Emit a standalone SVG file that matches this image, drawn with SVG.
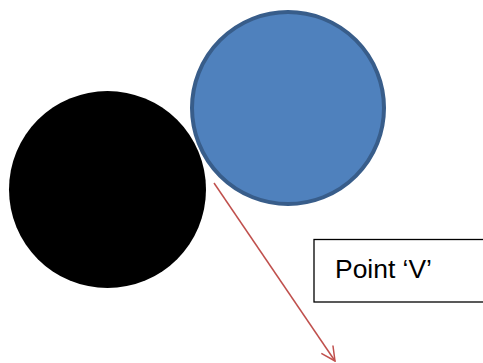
<svg xmlns="http://www.w3.org/2000/svg" width="483" height="363" viewBox="0 0 483 363">
<style>
.lbl{font-family:"Liberation Sans",Arial,sans-serif;font-size:25px;fill:#000}
.conn{stroke:#c0504d;stroke-width:1.5;fill:none}
</style>
<defs>
<marker id="arr" viewBox="0 0 16 16" refX="15" refY="8" markerWidth="16" markerHeight="16" markerUnits="userSpaceOnUse" orient="auto">
<path d="M1,1 L15,8 L1,15" fill="none" stroke="#c0504d" stroke-width="1.5"/>
</marker>
</defs>
<rect width="483" height="363" fill="#fff"/>
<g id="black-circle"><circle cx="107.5" cy="189.5" r="98.5" fill="#000"/></g>
<g id="blue-circle"><circle cx="288" cy="108" r="96" fill="#4f81bd" stroke="#385d8a" stroke-width="4"/></g>
<g id="connectors">
<path class="conn" d="M214,183 L335,361" marker-end="url(#arr)"/>
</g>
<g id="point-v">
<rect x="314" y="239.5" width="175" height="62.5" fill="#fff" stroke="#000" stroke-width="1.3"/>
<text class="lbl" x="335" y="278" textLength="97" lengthAdjust="spacingAndGlyphs">Point ‘V’</text>
</g>
</svg>
